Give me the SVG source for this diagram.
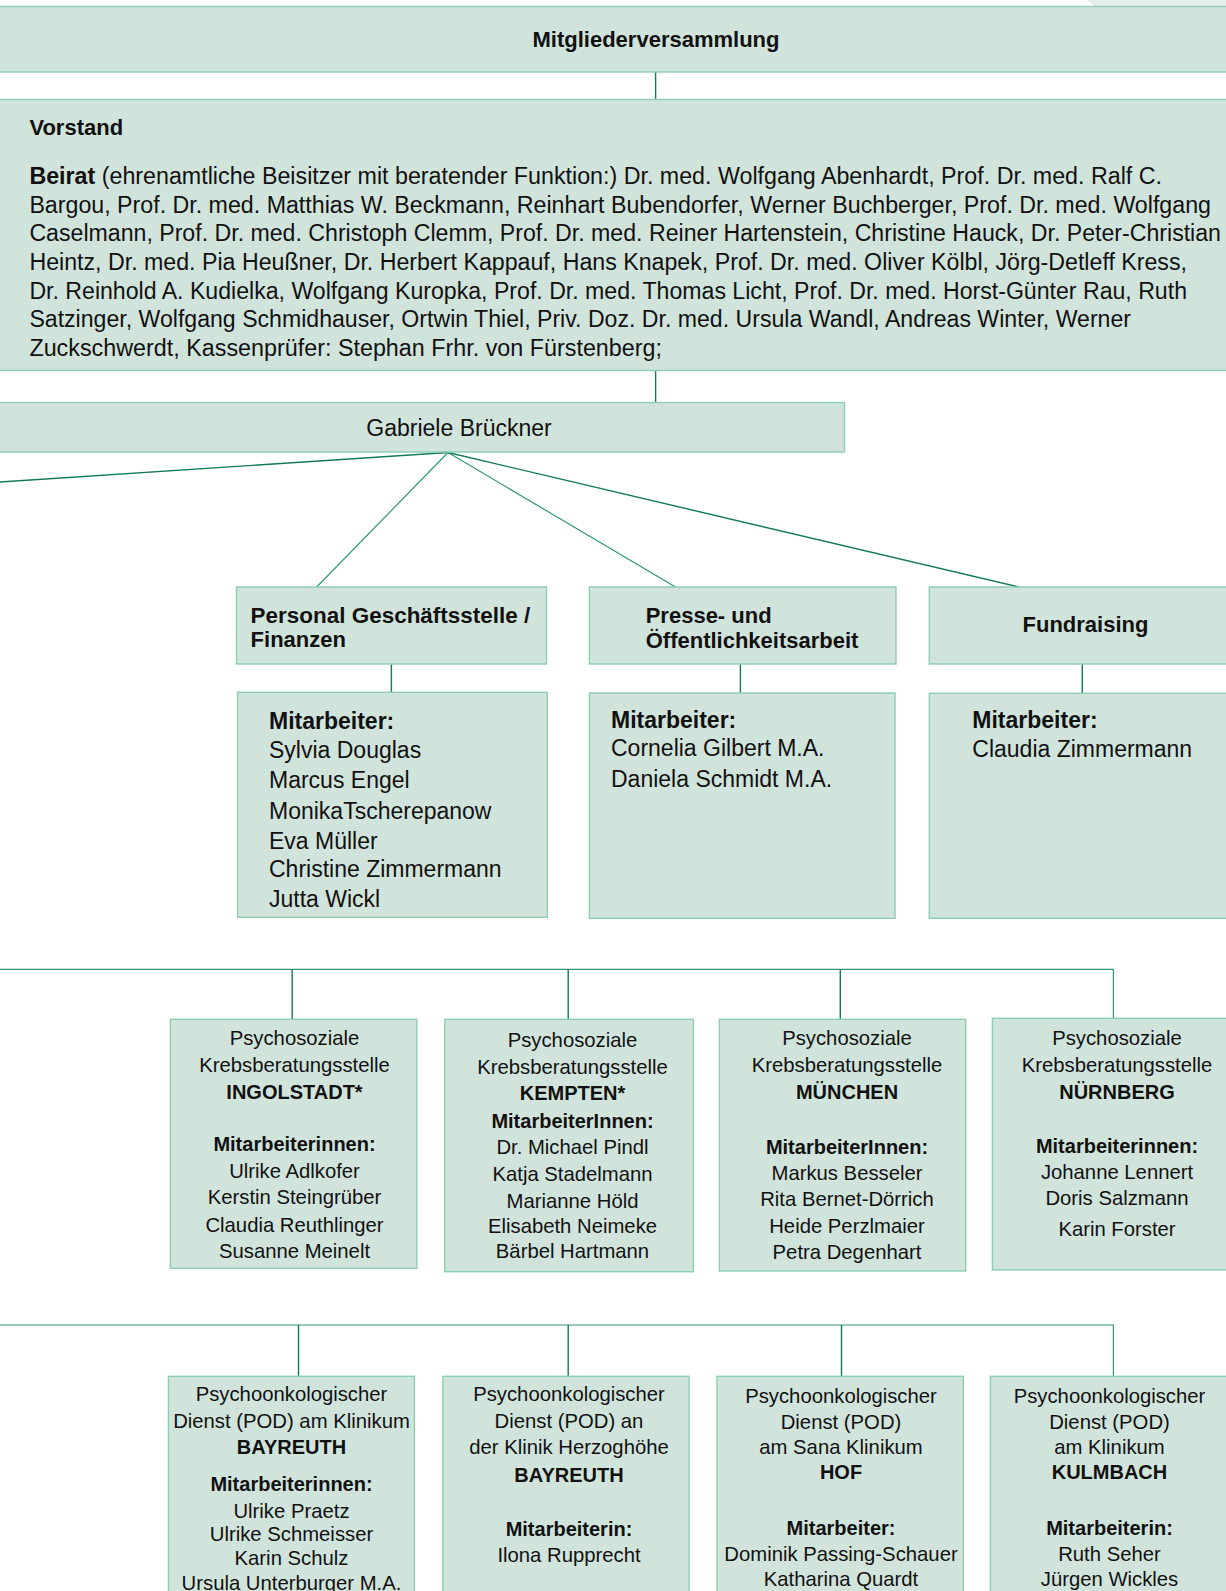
<svg xmlns="http://www.w3.org/2000/svg" width="1226" height="1591" viewBox="0 0 1226 1591">
<style>
.box{fill:#d1e4dc;stroke:#8dcdb2;stroke-width:1.4}
.t{font-family:"Liberation Sans",Arial,sans-serif;fill:#111}
.b{font-weight:bold}
.c{text-anchor:middle}
.s{font-size:20.3px}
.sb{font-size:20px;font-weight:bold}
.m{font-size:23px}
.mb{font-size:23px;font-weight:bold}
.h{font-size:22px;font-weight:bold}
.ln{stroke:#2f9873;stroke-width:1.2;fill:none}
.ld{stroke:#127a55;stroke-width:1.4;fill:none}
</style>
<rect width="1226" height="1591" fill="#ffffff"/>
<polygon points="1087,0 1226,0 1226,6 1094,6" fill="#e4eeea"/>

<g id="connectors">
<path class="ld" d="M655.6 72 V99.5"/>
<path class="ld" d="M655.6 370.5 V402.5"/>
<path class="ld" d="M448 452.5 L0 482" stroke-width="2"/>
<path class="ln" d="M448 452.5 L316.7 587"/>
<path class="ln" d="M448 452.5 L675.5 587"/>
<path class="ld" d="M448 452.5 L1019 587"/>
<path class="ld" d="M391.4 664 V692.3"/>
<path class="ld" d="M740.4 664 V693"/>
<path class="ld" d="M1082.3 664 V693.3"/>
<path class="ln" d="M0 969.3 H1113.4 V1018.3"/>
<path class="ld" d="M292.2 969.3 V1019.3"/>
<path class="ld" d="M568.2 969.3 V1019.3"/>
<path class="ld" d="M840.3 969.3 V1019.3"/>
<path class="ln" d="M0 1325 H1113.4 V1376"/>
<path class="ld" d="M298.5 1325 V1376"/>
<path class="ld" d="M568.2 1325 V1376"/>
<path class="ld" d="M841.5 1325 V1376"/>
</g>

<g id="mitgliederversammlung">
<rect class="box" x="-5" y="6.5" width="1240" height="65.5"/>
<text class="t h c" x="656" y="47" font-size="22.5">Mitgliederversammlung</text>
</g>

<g id="vorstand">
<rect class="box" x="-5" y="99.5" width="1240" height="271"/>
<text class="t h" x="29.4" y="135">Vorstand</text>
<text class="t m" x="29.4" y="184" textLength="1132.6" lengthAdjust="spacingAndGlyphs"><tspan class="b">Beirat</tspan> (ehrenamtliche Beisitzer mit beratender Funktion:) Dr. med. Wolfgang Abenhardt, Prof. Dr. med. Ralf C.</text>
<text class="t m" x="29.4" y="212.5" textLength="1181.6" lengthAdjust="spacingAndGlyphs">Bargou, Prof. Dr. med. Matthias W. Beckmann, Reinhart Bubendorfer, Werner Buchberger, Prof. Dr. med. Wolfgang</text>
<text class="t m" x="29.4" y="241" textLength="1191.6" lengthAdjust="spacingAndGlyphs">Caselmann, Prof. Dr. med. Christoph Clemm, Prof. Dr. med. Reiner Hartenstein, Christine Hauck, Dr. Peter-Christian</text>
<text class="t m" x="29.4" y="270" textLength="1157.6" lengthAdjust="spacingAndGlyphs">Heintz, Dr. med. Pia Heußner, Dr. Herbert Kappauf, Hans Knapek, Prof. Dr. med. Oliver Kölbl, Jörg-Detleff Kress,</text>
<text class="t m" x="29.4" y="298.5" textLength="1157.6" lengthAdjust="spacingAndGlyphs">Dr. Reinhold A. Kudielka, Wolfgang Kuropka, Prof. Dr. med. Thomas Licht, Prof. Dr. med. Horst-Günter Rau, Ruth</text>
<text class="t m" x="29.4" y="327" textLength="1101.6" lengthAdjust="spacingAndGlyphs">Satzinger, Wolfgang Schmidhauser, Ortwin Thiel, Priv. Doz. Dr. med. Ursula Wandl, Andreas Winter, Werner</text>
<text class="t m" x="29.4" y="355.5" textLength="632.6" lengthAdjust="spacingAndGlyphs">Zuckschwerdt, Kassenprüfer: Stephan Frhr. von Fürstenberg;</text>
</g>

<g id="gabriele-brueckner">
<rect class="box" x="-5" y="402.5" width="849.5" height="49.5"/>
<text class="t m c" x="459" y="436">Gabriele Brückner</text>
</g>

<g id="personal">
<rect class="box" x="236.5" y="587" width="310" height="77"/>
<text class="t h" x="250.6" y="622.7" textLength="279.6" lengthAdjust="spacingAndGlyphs">Personal Geschäftsstelle /</text>
<text class="t h" x="250.6" y="646.7">Finanzen</text>
</g>

<g id="personal-mitarbeiter">
<rect class="box" x="237.6" y="692.3" width="309.7" height="225"/>
<text class="t mb" x="269" y="729">Mitarbeiter:</text>
<text class="t m" x="269" y="757.5">Sylvia Douglas</text>
<text class="t m" x="269" y="788">Marcus Engel</text>
<text class="t m" x="269" y="818.5">MonikaTscherepanow</text>
<text class="t m" x="269" y="849">Eva Müller</text>
<text class="t m" x="269" y="877.3">Christine Zimmermann</text>
<text class="t m" x="269" y="906.7">Jutta Wickl</text>
</g>

<g id="presse">
<rect class="box" x="589.4" y="587" width="306.6" height="77"/>
<text class="t h" x="645.7" y="622.7">Presse- und</text>
<text class="t h" x="645.7" y="648.3">Öffentlichkeitsarbeit</text>
</g>

<g id="presse-mitarbeiter">
<rect class="box" x="589.4" y="693" width="305.6" height="225.3"/>
<text class="t mb" x="611" y="728.3">Mitarbeiter:</text>
<text class="t m" x="611" y="755.7">Cornelia Gilbert M.A.</text>
<text class="t m" x="611" y="786.7">Daniela Schmidt M.A.</text>
</g>

<g id="fundraising">
<rect class="box" x="929.3" y="587" width="310" height="77"/>
<text class="t h c" x="1085.5" y="632.3">Fundraising</text>
</g>

<g id="fundraising-mitarbeiter">
<rect class="box" x="929.3" y="693.3" width="310" height="225"/>
<text class="t mb" x="972.3" y="727.7">Mitarbeiter:</text>
<text class="t m" x="972.3" y="757.3">Claudia Zimmermann</text>
</g>

<g id="ingolstadt">
<rect class="box" x="170.4" y="1019.3" width="246.4" height="249"/>
<text class="t s c" x="294.5" y="1045">Psychosoziale</text>
<text class="t s c" x="294.5" y="1072">Krebsberatungsstelle</text>
<text class="t sb c" x="294.5" y="1099">INGOLSTADT*</text>
<text class="t sb c" x="294.5" y="1151.3">Mitarbeiterinnen:</text>
<text class="t s c" x="294.5" y="1178.3">Ulrike Adlkofer</text>
<text class="t s c" x="294.5" y="1204.3">Kerstin Steingrüber</text>
<text class="t s c" x="294.5" y="1231.5">Claudia Reuthlinger</text>
<text class="t s c" x="294.5" y="1258.3">Susanne Meinelt</text>
</g>

<g id="kempten">
<rect class="box" x="444.8" y="1019.3" width="248.6" height="252.4"/>
<text class="t s c" x="572.5" y="1047">Psychosoziale</text>
<text class="t s c" x="572.5" y="1073.7">Krebsberatungsstelle</text>
<text class="t sb c" x="572.5" y="1100">KEMPTEN*</text>
<text class="t sb c" x="572.5" y="1127.5">MitarbeiterInnen:</text>
<text class="t s c" x="572.5" y="1154">Dr. Michael Pindl</text>
<text class="t s c" x="572.5" y="1181">Katja Stadelmann</text>
<text class="t s c" x="572.5" y="1207.6">Marianne Höld</text>
<text class="t s c" x="572.5" y="1233">Elisabeth Neimeke</text>
<text class="t s c" x="572.5" y="1258">Bärbel Hartmann</text>
</g>

<g id="muenchen">
<rect class="box" x="719.4" y="1019.3" width="246.3" height="251.7"/>
<text class="t s c" x="847" y="1045.3">Psychosoziale</text>
<text class="t s c" x="847" y="1072">Krebsberatungsstelle</text>
<text class="t sb c" x="847" y="1098.7">MÜNCHEN</text>
<text class="t sb c" x="847" y="1153.7">MitarbeiterInnen:</text>
<text class="t s c" x="847" y="1180.3">Markus Besseler</text>
<text class="t s c" x="847" y="1206.3">Rita Bernet-Dörrich</text>
<text class="t s c" x="847" y="1233">Heide Perzlmaier</text>
<text class="t s c" x="847" y="1258.7">Petra Degenhart</text>
</g>

<g id="nuernberg">
<rect class="box" x="992.4" y="1018.3" width="247" height="251.7"/>
<text class="t s c" x="1117" y="1045.3">Psychosoziale</text>
<text class="t s c" x="1117" y="1072">Krebsberatungsstelle</text>
<text class="t sb c" x="1117" y="1098.7">NÜRNBERG</text>
<text class="t sb c" x="1117" y="1153">Mitarbeiterinnen:</text>
<text class="t s c" x="1117" y="1178.7">Johanne Lennert</text>
<text class="t s c" x="1117" y="1205.3">Doris Salzmann</text>
<text class="t s c" x="1117" y="1236">Karin Forster</text>
</g>

<g id="bayreuth-klinikum">
<rect class="box" x="168.4" y="1376.3" width="246" height="230"/>
<text class="t s c" x="291.5" y="1401.3">Psychoonkologischer</text>
<text class="t s c" x="291.5" y="1428">Dienst (POD) am Klinikum</text>
<text class="t sb c" x="291.5" y="1453.7">BAYREUTH</text>
<text class="t sb c" x="291.5" y="1491.3">Mitarbeiterinnen:</text>
<text class="t s c" x="291.5" y="1518">Ulrike Praetz</text>
<text class="t s c" x="291.5" y="1541.3">Ulrike Schmeisser</text>
<text class="t s c" x="291.5" y="1565.3">Karin Schulz</text>
<text class="t s c" x="291.5" y="1589.7">Ursula Unterburger M.A.</text>
</g>

<g id="bayreuth-herzoghoehe">
<rect class="box" x="442.9" y="1376.3" width="246.1" height="230"/>
<text class="t s c" x="569" y="1400.5">Psychoonkologischer</text>
<text class="t s c" x="569" y="1428">Dienst (POD) an</text>
<text class="t s c" x="569" y="1454">der Klinik Herzoghöhe</text>
<text class="t sb c" x="569" y="1481.7">BAYREUTH</text>
<text class="t sb c" x="569" y="1536">Mitarbeiterin:</text>
<text class="t s c" x="569" y="1562">Ilona Rupprecht</text>
</g>

<g id="hof">
<rect class="box" x="717" y="1376.3" width="246.3" height="230"/>
<text class="t s c" x="841" y="1403">Psychoonkologischer</text>
<text class="t s c" x="841" y="1428.7">Dienst (POD)</text>
<text class="t s c" x="841" y="1454">am Sana Klinikum</text>
<text class="t sb c" x="841" y="1479">HOF</text>
<text class="t sb c" x="841" y="1535.3">Mitarbeiter:</text>
<text class="t s c" x="841" y="1561.3">Dominik Passing-Schauer</text>
<text class="t s c" x="841" y="1585.7">Katharina Quardt</text>
</g>

<g id="kulmbach">
<rect class="box" x="990.4" y="1376.3" width="249" height="230"/>
<text class="t s c" x="1109.5" y="1403">Psychoonkologischer</text>
<text class="t s c" x="1109.5" y="1428.7">Dienst (POD)</text>
<text class="t s c" x="1109.5" y="1454">am Klinikum</text>
<text class="t sb c" x="1109.5" y="1479">KULMBACH</text>
<text class="t sb c" x="1109.5" y="1535.3">Mitarbeiterin:</text>
<text class="t s c" x="1109.5" y="1561.3">Ruth Seher</text>
<text class="t s c" x="1109.5" y="1585.7">Jürgen Wickles</text>
</g>
</svg>
